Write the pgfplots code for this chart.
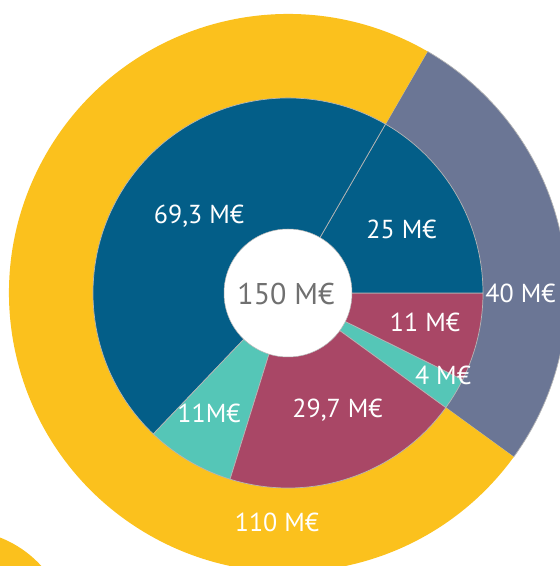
\documentclass[border=0pt]{standalone}
\usepackage{pgfplots}
\pgfplotsset{compat=1.18}
\usepackage{pgfplotstable}
\usepackage{fontspec}
\setmainfont{PT Sans}
\definecolor{cgold}{HTML}{FBC11D}
\definecolor{cslate}{HTML}{6B7695}
\definecolor{cnavy}{HTML}{035E88}
\definecolor{cmaroon}{HTML}{A94766}
\definecolor{cteal}{HTML}{55C6B7}
\definecolor{csep}{HTML}{B5B5B5}
\definecolor{ctext}{HTML}{707070}
\tikzset{lab/.style={font=\fontsize{26}{30}\selectfont, anchor=base, text=white, inner sep=0pt}}

% outer ring (starting at -36 deg, counter-clockwise)
\pgfplotstableread{
value fill border
40 cslate csep
110 cgold none
}\outerring
% inner ring (starting at -36 deg, counter-clockwise)
\pgfplotstableread{
value fill border
4 cteal csep
11 cmaroon csep
25 cnavy csep
69.3 cnavy csep
11 cteal csep
29.7 cmaroon csep
}\innerring

\def\cx{288}
\def\cy{273}
\newcommand\wedgeat[5]{% start, end, radius, fill, border
  \filldraw[fill=#4, draw=#5, line width=0.7pt]
    (axis cs:\cx,\cy) -- ++(#1:#3pt) arc[start angle=#1, end angle=#2, radius=#3pt] -- cycle;}
\newcommand\drawring[2]{% table, radius
  \pgfkeys{/pgf/fpu=false}%
  \xdef\acc{-36}%
  \pgfplotstablegetrowsof{#1}\pgfmathtruncatemacro\nrows{\pgfplotsretval-1}%
  \foreach \r in {0,...,\nrows}{%
    \pgfplotstablegetelem{\r}{value}\of#1\let\v\pgfplotsretval
    \pgfplotstablegetelem{\r}{fill}\of#1\let\fc\pgfplotsretval
    \pgfplotstablegetelem{\r}{border}\of#1\let\bc\pgfplotsretval
    \pgfmathsetmacro\aend{\acc+\v*2.4}%
    \wedgeat{\acc}{\aend}{#2}{\fc}{\bc}%
    \xdef\acc{\aend}%
  }}

\begin{document}
\begin{tikzpicture}
\begin{axis}[name=ax, x=1pt, y=1pt, xmin=0, xmax=560, ymin=0, ymax=566,
  hide axis, clip=true]
\pgfplotsextra{%
  \fill[cgold] (axis cs:-40,-74) circle[radius=110pt];
  \drawring{\outerring}{279}%
  \drawring{\innerring}{195}%
  \filldraw[fill=white, draw=csep, line width=0.5pt] (axis cs:\cx,\cy) circle[radius=64pt];
}
\node[lab] at (axis cs:199,342.7) {69,3 M€};
\node[lab] at (axis cs:401.5,327.7) {25 M€};
\node[lab, text=ctext, font=\fontsize{30}{34}\selectfont] at (axis cs:286,261) {150 M€};
\node[lab] at (axis cs:520.5,263) {40 M€};
\node[lab] at (axis cs:425,234) {11 M€};
\node[lab] at (axis cs:443,181) {4 M€};
\node[lab] at (axis cs:337.5,148) {29,7 M€};
\node[lab] at (axis cs:209,143) {11M€};
\node[lab] at (axis cs:277,34.3) {110 M€};
\end{axis}
\pgfresetboundingbox
\useasboundingbox (ax.south west) rectangle (ax.north east);
\end{tikzpicture}
\end{document}
